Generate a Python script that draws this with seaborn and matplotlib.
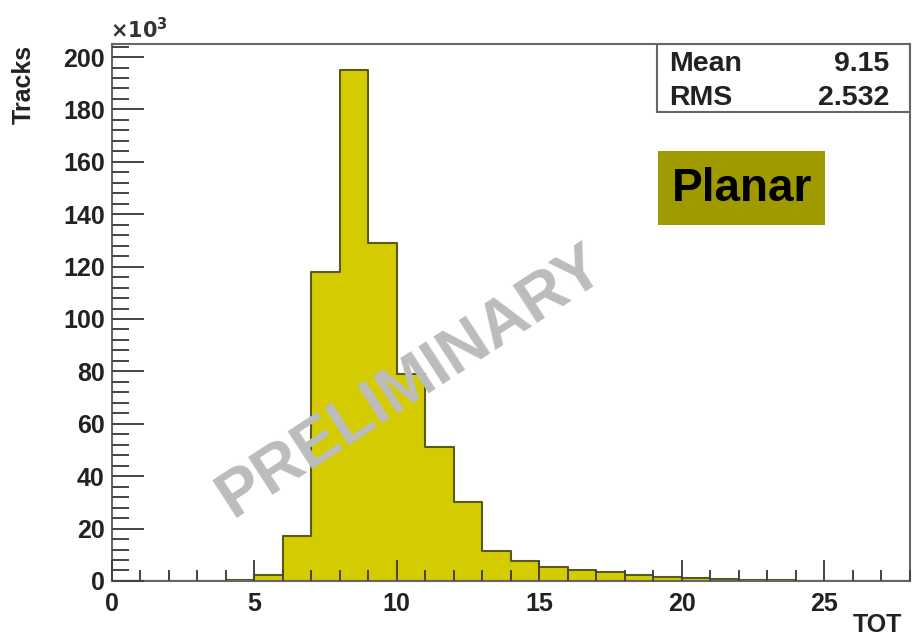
import numpy as np
import pandas as pd
import matplotlib
matplotlib.use("Agg")
import matplotlib.pyplot as plt
import seaborn as sns
from matplotlib.ticker import MultipleLocator

# TOT histogram, unit-width bins, counts in units of 10^3 tracks
bin_lo = [4, 5, 6, 7, 8, 9, 10, 11, 12, 13, 14, 15, 16, 17, 18, 19, 20, 21, 22, 23]
counts = [0.5, 2.3, 17, 118, 195, 129, 79, 51, 30, 11.5, 7.5, 5.5, 4.2, 3.3, 2.4, 1.6, 1.2, 0.8, 0.5, 0.3]
stats_names = ["Mean", "RMS"]
stats_vals = ["9.15", "2.532"]

df = pd.DataFrame({"tot": np.array(bin_lo) + 0.5, "n": counts})
edges = list(range(0, 29))

sns.set_style("white")
plt.rcParams["font.family"] = ["Liberation Sans", "DejaVu Sans"]
plt.rcParams["font.weight"] = "bold"

fig = plt.figure(figsize=(9.16, 6.37), dpi=100)
ax = fig.add_axes([0.122, 0.088, 0.871, 0.843])

sns.histplot(data=df, x="tot", weights="n", bins=edges, element="step", fill=True,
             color="#d4cc00", alpha=1.0, edgecolor="#5a5a18", linewidth=1.5, ax=ax)
# keep the ticks drawn on top of the filled histogram, like ROOT does
for art in ax.collections + ax.patches + ax.lines:
    art.set_zorder(1)
ax.set_axisbelow(False)
ax.xaxis.set_zorder(10)
ax.yaxis.set_zorder(10)

ax.set_xlim(0, 28)
ax.set_ylim(0, 205)
ax.xaxis.set_major_locator(MultipleLocator(5))
ax.xaxis.set_minor_locator(MultipleLocator(1))
ax.yaxis.set_major_locator(MultipleLocator(20))
ax.yaxis.set_minor_locator(MultipleLocator(4))
ax.tick_params(axis="both", which="both", direction="in", width=1.4, color="#444444",
               bottom=True, left=True, top=False, right=False)
ax.tick_params(axis="x", which="major", length=15, pad=8, labelsize=18)
ax.tick_params(axis="x", which="minor", length=8)
ax.tick_params(axis="y", which="major", length=23, pad=5, labelsize=18)
ax.tick_params(axis="y", which="minor", length=12)
for lab in ax.get_xticklabels() + ax.get_yticklabels():
    lab.set_fontweight("bold")
    lab.set_color("#222222")
for s in ax.spines.values():
    s.set_color("#666666")
    s.set_linewidth(1.5)
    s.set_zorder(10)

ax.set_xlabel("")
ax.set_ylabel("")
fig.text(0.985, 0.0, "TOT", fontsize=18, fontweight="bold", ha="right", va="bottom", color="#222222")
fig.text(0.013, 0.93, "Tracks", fontsize=18, fontweight="bold", rotation=90, ha="left", va="top",
         color="#222222")
fig.text(0.120, 0.933, r"$\times\mathbf{10^3}$", fontsize=15, ha="left", va="bottom", color="#333333")

# stats box
ax.add_patch(plt.Rectangle((0.683, 0.873), 0.317, 0.127, transform=ax.transAxes,
                           facecolor="white", edgecolor="#666666", linewidth=1.5, zorder=5))
for i, (nm, v) in enumerate(zip(stats_names, stats_vals)):
    yy = 0.963 - i * 0.063
    ax.text(0.699, yy, nm, transform=ax.transAxes, fontsize=20.5, fontweight="bold",
            va="center", ha="left", zorder=6, color="#222222")
    ax.text(0.975, yy, v, transform=ax.transAxes, fontsize=20.5, fontweight="bold",
            va="center", ha="right", zorder=6, color="#222222")

# Planar label
ax.add_patch(plt.Rectangle((0.685, 0.663), 0.2085, 0.138, transform=ax.transAxes,
                           facecolor="#9f9a00", edgecolor="none", zorder=5))
ax.text(0.7895, 0.730, "Planar", transform=ax.transAxes, fontsize=33, fontweight="bold",
        ha="center", va="center", color="black", zorder=6)

# watermark
ax.text(0.375, 0.37, "PRELIMINARY", transform=ax.transAxes, fontsize=47, fontweight="bold",
        color="#bcbcbc", rotation=33, ha="center", va="center", zorder=12)

fig.savefig("out.png", dpi=100)
